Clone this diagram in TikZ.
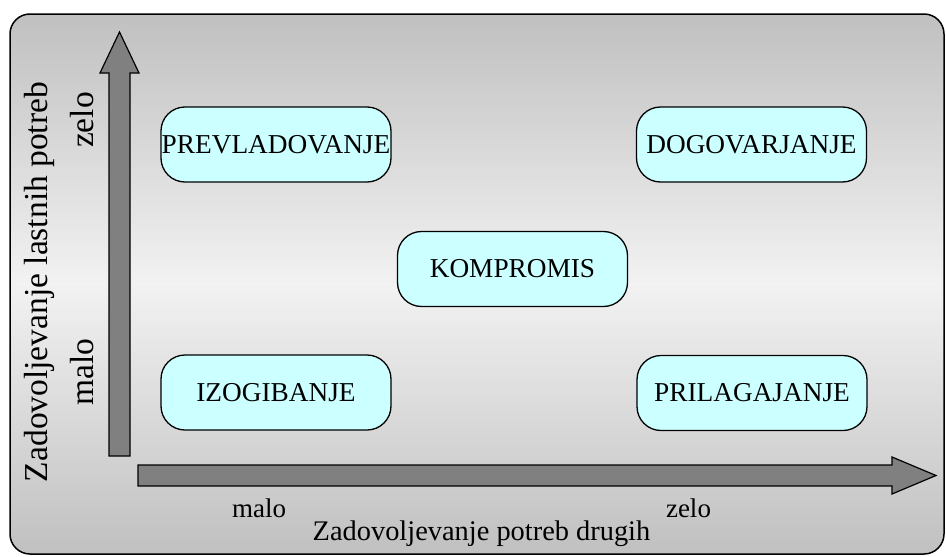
\documentclass[tikz,border=0pt]{standalone}
\usepackage{fontspec}
\setmainfont{Liberation Serif}
\definecolor{panelgray}{RGB}{192,192,192}
\definecolor{panellight}{RGB}{242,242,242}
\definecolor{boxcyan}{RGB}{204,255,255}
\definecolor{axisgray}{RGB}{128,128,128}
\tikzset{
  stylebox/.style={draw=black, line width=1.3pt, fill=boxcyan, rounded corners=24pt,
    minimum width=230pt, minimum height=75pt, inner sep=0pt,
    font=\fontsize{27.3}{31}\selectfont},
  axisarrow/.style={draw=black, line width=1.2pt, fill=axisgray, line join=miter},
  axislabel/.style={inner sep=0pt, anchor=base, font=\fontsize{28.4}{32}\selectfont},
  endlabel/.style={inner sep=0pt, anchor=base, font=\fontsize{27}{30}\selectfont},
  vlabel/.style={inner sep=0pt, anchor=base, rotate=90, font=\fontsize{33.5}{38}\selectfont}
}
\begin{document}
\begin{tikzpicture}[x=1pt,y=-1pt]
\useasboundingbox (0,0) rectangle (946,557);
% shaded panel
\path[draw=black, line width=1.5pt, rounded corners=20pt,
  top color=panelgray, bottom color=panelgray, middle color=panellight]
  (10,14) rectangle (944,554);
% axes
\draw[axisarrow] (109,456) -- (109,73) -- (100,73) -- (119.5,32) -- (139,73)
  -- (130,73) -- (130,456) -- cycle;
\draw[axisarrow] (138,465) -- (892,465) -- (892,457) -- (936,475.5) -- (892,494)
  -- (892,486) -- (138,486) -- cycle;
% strategies
\node[stylebox] (prev) at (276,144.5) {PREVLADOVANJE};
\node[stylebox] (dogo) at (751.5,144.5) {DOGOVARJANJE};
\node[stylebox] (komp) at (512.5,269) {KOMPROMIS};
\node[stylebox] (izog) at (276,392.5) {IZOGIBANJE};
\node[stylebox] (pril) at (752,393) {PRILAGAJANJE};
% horizontal axis labels
\node[endlabel] (hmalo) at (259,517) {malo};
\node[endlabel] (hzelo) at (688.5,517) {zelo};
\node[axislabel] (hname) at (481.5,540) {Zadovoljevanje potreb drugih};
% vertical axis labels
\node[vlabel] (vname) at (47,282) {Zadovoljevanje lastnih potreb};
\node[vlabel] (vzelo) at (93,120) {zelo};
\node[vlabel] (vmalo) at (93,372) {malo};
\end{tikzpicture}
\end{document}
